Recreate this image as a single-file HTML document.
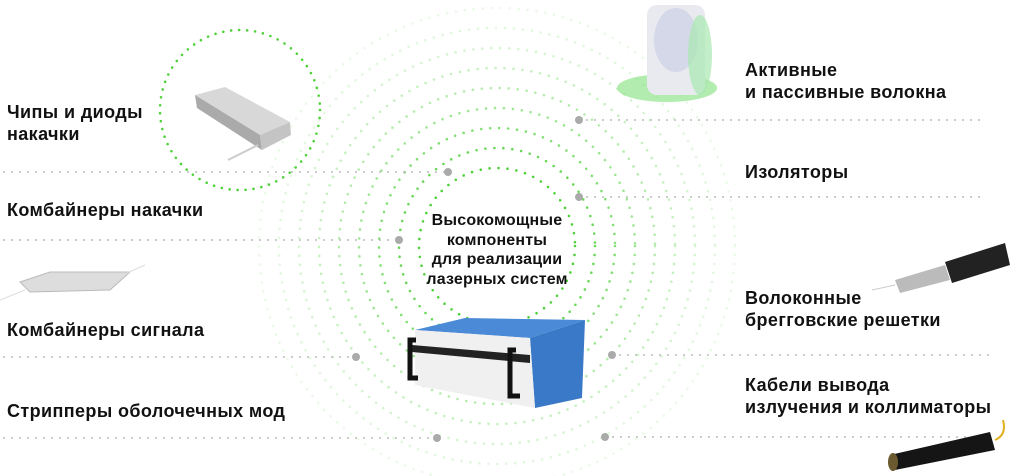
<!DOCTYPE html>
<html><head><meta charset="utf-8"><style>
html,body{margin:0;padding:0;background:#fff;}
body{width:1025px;height:476px;position:relative;overflow:hidden;font-family:"Liberation Sans",sans-serif;}
.t{position:absolute;font-weight:bold;font-size:18px;line-height:22px;color:#111;letter-spacing:0.4px;}
svg{position:absolute;left:0;top:0;}
</style></head><body>
<svg width="1025" height="476" viewBox="0 0 1025 476">
<g fill="none" stroke="#4fd13a" stroke-linecap="round" stroke-width="2.6">
<circle cx="497" cy="246" r="78" stroke-dasharray="0 9" opacity="1"/>
<circle cx="497" cy="246" r="98" stroke-dasharray="0 9" opacity="0.85"/>
<circle cx="497" cy="246" r="118" stroke-dasharray="0 9" opacity="0.7"/>
<circle cx="497" cy="246" r="138" stroke-dasharray="0 9" opacity="0.55"/>
<circle cx="497" cy="246" r="158" stroke-dasharray="0 9" opacity="0.42"/>
<circle cx="497" cy="246" r="178" stroke-dasharray="0 9" opacity="0.32"/>
<circle cx="497" cy="246" r="198" stroke-dasharray="0 9" opacity="0.24"/>
<circle cx="497" cy="246" r="218" stroke-dasharray="0 9" opacity="0.17"/>
<circle cx="497" cy="246" r="238" stroke-dasharray="0 9" opacity="0.12"/>
<circle cx="240" cy="110" r="80" stroke-dasharray="0 8" opacity="1"/>
</g>
<g stroke="#bbb" stroke-width="2" stroke-linecap="round" stroke-dasharray="0 8">
<line x1="4" y1="172" x2="448" y2="172"/>
<line x1="4" y1="240" x2="399" y2="240"/>
<line x1="4" y1="357" x2="356" y2="357"/>
<line x1="4" y1="438" x2="437" y2="438"/>
<line x1="579" y1="120" x2="980" y2="120"/>
<line x1="579" y1="197" x2="980" y2="197"/>
<line x1="612" y1="355" x2="990" y2="355"/>
<line x1="605" y1="437" x2="990" y2="437"/>
</g>
<g fill="#aaa">
<circle cx="448" cy="172" r="4"/><circle cx="399" cy="240" r="4"/><circle cx="356" cy="357" r="4"/><circle cx="437" cy="438" r="4"/>
<circle cx="579" cy="120" r="4"/><circle cx="579" cy="197" r="4"/><circle cx="612" cy="355" r="4"/><circle cx="605" cy="437" r="4"/>
</g>
<polygon points="195,95 225,87 290,122 260,135" fill="#d8d8d8"/>
<polygon points="195,95 260,135 262,150 197,108" fill="#aaa"/>
<polygon points="260,135 290,122 291,135 262,150" fill="#c4c4c4"/>
<line x1="228" y1="160" x2="258" y2="145" stroke="#ccc" stroke-width="2"/>
<polygon points="20,282 50,272 130,272 110,290 30,292" fill="#ddd" stroke="#bbb"/>
<line x1="0" y1="300" x2="25" y2="290" stroke="#ddd"/>
<line x1="120" y1="276" x2="145" y2="265" stroke="#ddd"/>
<ellipse cx="667" cy="88" rx="50" ry="14" fill="#7fe07a" opacity="0.6"/>
<rect x="647" y="5" width="58" height="90" rx="10" fill="#e8eaf0"/>
<ellipse cx="676" cy="40" rx="22" ry="32" fill="#d5d8e8"/>
<ellipse cx="700" cy="55" rx="12" ry="40" fill="#a8e8b0" opacity="0.7"/>
<polygon points="415,330 465,318 585,320 530,338" fill="#4a8ad6"/>
<polygon points="530,338 585,320 582,398 535,408" fill="#3a78c8"/>
<polygon points="415,330 530,338 535,408 415,385" fill="#f0f0f0"/>
<polygon points="412,345 530,355 530,363 412,352" fill="#222"/>
<path d="M416,340 h-6 v38 h8" stroke="#111" stroke-width="5" fill="none"/>
<path d="M516,350 h-6 v46 h10" stroke="#111" stroke-width="5" fill="none"/>
<polygon points="945,262 1005,243 1010,265 952,283" fill="#222"/>
<polygon points="895,280 945,265 950,280 900,293" fill="#bbb"/>
<line x1="872" y1="290" x2="895" y2="285" stroke="#ccc"/>
<polygon points="890,455 990,432 995,450 895,470" fill="#151515"/>
<ellipse cx="893" cy="462" rx="5" ry="9" fill="#6b5a30"/>
<path d="M995,440 q12,-5 8,-20" stroke="#e0b020" stroke-width="2" fill="none"/>
</svg>
<div class="t" style="left:7px;top:101px">Чипы и диоды<br>накачки</div>
<div class="t" style="left:7px;top:199px">Комбайнеры накачки</div>
<div class="t" style="left:7px;top:319px">Комбайнеры сигнала</div>
<div class="t" style="left:7px;top:400px">Стрипперы оболочечных мод</div>
<div class="t" style="left:745px;top:59px">Активные<br>и пассивные волокна</div>
<div class="t" style="left:745px;top:161px">Изоляторы</div>
<div class="t" style="left:745px;top:287px">Волоконные<br>брегговские решетки</div>
<div class="t" style="left:745px;top:374px">Кабели вывода<br>излучения и коллиматоры</div>
<div class="t" style="left:387px;top:211px;width:220px;text-align:center;font-size:16px;line-height:19.5px;letter-spacing:0.2px">Высокомощные<br>компоненты<br>для реализации<br>лазерных систем</div>
</body></html>
